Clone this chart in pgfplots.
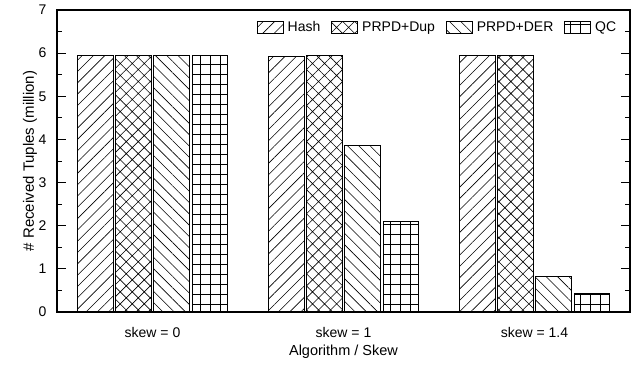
\documentclass[border=0pt]{standalone}
\usepackage{pgfplots}
\pgfplotsset{compat=1.18}
\usetikzlibrary{patterns.meta}
\usepackage{fontspec}
\setmainfont{Liberation Sans}
\begin{document}
\begin{tikzpicture}[x=1pt,y=1pt]
\path[use as bounding box] (-57,-52) rectangle (580,312);
\begin{axis}[
  at={(0,0)}, anchor=south west, scale only axis,
  width=573pt, height=302pt,
  xmin=-0.5, xmax=2.5, ymin=0, ymax=7,
  ybar=2.7pt, bar width=35.5pt,
  xtick={0,1,2}, xticklabels={skew = 0, skew = 1, skew = 1.4},
  xtick style={draw=none},
  minor xtick={-0.4,-0.3,-0.2,-0.1,0,0.1,0.2,0.3,0.4,0.5,0.6,0.7,0.8,0.9,1,1.1,1.2,1.3,1.4,1.5,1.6,1.7,1.8,1.9,2,2.1,2.2,2.3,2.4},
  ytick={0,1,2,3,4,5,6,7}, minor ytick={0.5,1.5,2.5,3.5,4.5,5.5,6.5},
  tick align=inside,
  major tick length=9pt, minor tick length=5pt,
  tick style={black, line width=0.9pt},
  axis line style={line width=1.4pt},
  /pgf/number format/assume math mode=true,
  ticklabel style={font=\fontsize{14}{16}\selectfont},
  xticklabel style={anchor=center, yshift=-20pt},
  yticklabel style={anchor=east, xshift=-7pt},
  xlabel={Algorithm / Skew},
  ylabel={\# Received Tuples (million)},
  xlabel style={font=\fontsize{14.5}{16}\selectfont, at={(axis description cs:0.5,-0.1325)}, anchor=center},
  ylabel style={font=\fontsize{15}{16}\selectfont, at={(axis description cs:-0.047,0.5)}, anchor=center},
  legend columns=-1,
  legend style={draw=none, fill=none, at={(0.985,0.975)}, anchor=north east,
    font=\fontsize{14}{16}\selectfont,
    /tikz/every odd column/.append style={column sep=2pt},
    /tikz/every even column/.append style={column sep=9pt}},
  mylegend/.style={legend image code/.code={\draw[##1, line width=0.8pt] (0pt,-6pt) rectangle (26pt,6pt);}},
]
\addplot[draw=black, line width=0.8pt, mylegend, pattern={Lines[angle=45,distance=8pt,line width=0.6pt]}]
  coordinates {(0,5.95) (1,5.93) (2,5.95)};
\addplot[draw=black, line width=0.8pt, mylegend, pattern={Hatch[angle=45,distance=8.5pt,line width=0.6pt]}]
  coordinates {(0,5.95) (1,5.95) (2,5.95)};
\addplot[draw=black, line width=0.8pt, mylegend, pattern={Lines[angle=-45,distance=8pt,line width=0.6pt]}]
  coordinates {(0,5.95) (1,3.85) (2,0.82)};
\addplot[draw=black, line width=0.8pt, mylegend, pattern={Hatch[angle=0,distance=10pt,line width=0.6pt]}]
  coordinates {(0,5.95) (1,2.1) (2,0.42)};
\legend{Hash, PRPD+Dup, PRPD+DER, QC}
\end{axis}
\end{tikzpicture}
\end{document}
